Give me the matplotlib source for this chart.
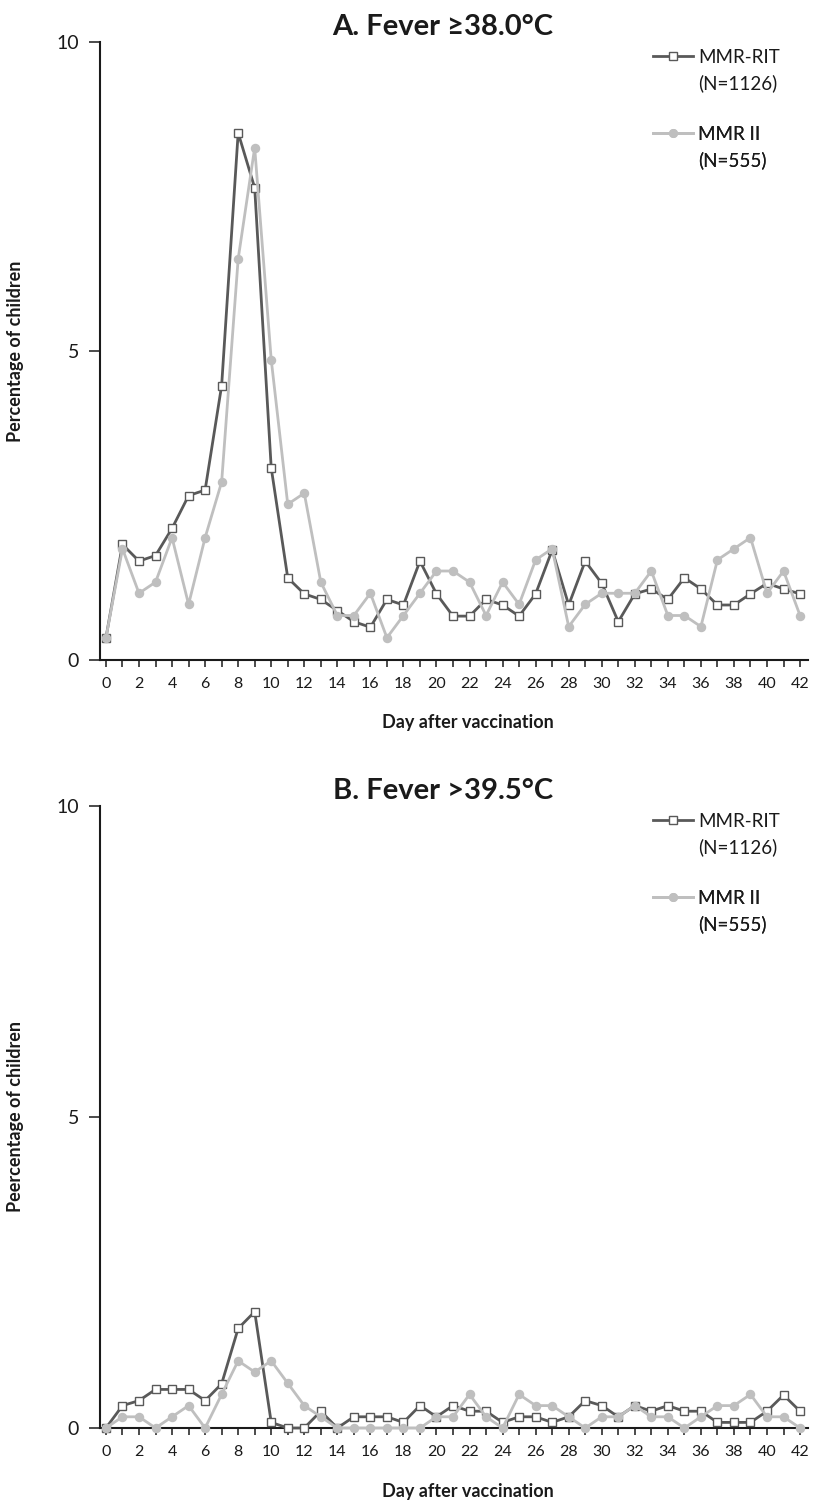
import matplotlib
matplotlib.use("Agg")
import matplotlib.pyplot as plt
from matplotlib.lines import Line2D

plt.rcParams['font.family'] = ['Lato', 'DejaVu Sans']

# days after vaccination
days = list(range(43))
xtick_labels = [str(d) if d % 2 == 0 else '' for d in days]

# panel A: fever >= 38.0 C (percentage of children)
fever38_rit = [0.36, 1.87, 1.60, 1.69, 2.13, 2.66, 2.75, 4.44, 8.53, 7.64,
               3.11, 1.33, 1.07, 0.98, 0.80, 0.62, 0.53, 0.98, 0.89, 1.60,
               1.07, 0.71, 0.71, 0.98, 0.89, 0.71, 1.07, 1.78, 0.89, 1.60,
               1.24, 0.62, 1.07, 1.15, 0.98, 1.33, 1.15, 0.89, 0.89, 1.07,
               1.24, 1.15, 1.07]
fever38_mmr = [0.36, 1.80, 1.08, 1.26, 1.98, 0.90, 1.98, 2.88, 6.49, 8.29,
               4.86, 2.52, 2.70, 1.26, 0.72, 0.72, 1.08, 0.36, 0.72, 1.08,
               1.44, 1.44, 1.26, 0.72, 1.26, 0.90, 1.62, 1.80, 0.54, 0.90,
               1.08, 1.08, 1.08, 1.44, 0.72, 0.72, 0.54, 1.62, 1.80, 1.98,
               1.08, 1.44, 0.72]

# panel B: fever > 39.5 C
fever395_rit = [0.00, 0.36, 0.44, 0.62, 0.62, 0.62, 0.44, 0.71, 1.60, 1.87,
                0.09, 0.00, 0.00, 0.27, 0.00, 0.18, 0.18, 0.18, 0.09, 0.36,
                0.18, 0.36, 0.27, 0.27, 0.09, 0.18, 0.18, 0.09, 0.18, 0.44,
                0.36, 0.18, 0.36, 0.27, 0.36, 0.27, 0.27, 0.09, 0.09, 0.09,
                0.27, 0.53, 0.27]
fever395_mmr = [0.00, 0.18, 0.18, 0.00, 0.18, 0.36, 0.00, 0.54, 1.08, 0.90,
                1.08, 0.72, 0.36, 0.18, 0.00, 0.00, 0.00, 0.00, 0.00, 0.00,
                0.18, 0.18, 0.54, 0.18, 0.00, 0.54, 0.36, 0.36, 0.18, 0.00,
                0.18, 0.18, 0.36, 0.18, 0.18, 0.00, 0.18, 0.36, 0.36, 0.54,
                0.18, 0.18, 0.00]

series_names = ['MMR-RIT', 'MMR II']
series_n = ['(N=1126)', '(N=555)']
titles = ['A. Fever \u226538.0\u00b0C', 'B. Fever >39.5\u00b0C']
ylabels = ['Percentage of children', 'Peercentage of children']
xlabel = 'Day after vaccination'

DARK = '#595959'
LIGHT = '#bfbfbf'
INK = '#1a1a1a'
W, H = 818, 1501

fig = plt.figure(figsize=(W / 100, H / 100), dpi=100)


def add_px_axes(left, top, right, bottom):
    return fig.add_axes([left / W, 1 - bottom / H, (right - left) / W, (bottom - top) / H])


def draw_panel(ax, rit, mmr, title, ylabel, top, bottom):
    ax.plot(days, rit, color=DARK, lw=2.0, marker='s', ms=5.8, mfc='white',
            mec=DARK, mew=1.0, clip_on=False, zorder=3)
    ax.plot(days, mmr, color=LIGHT, lw=2.0, marker='o', ms=5.8, mfc=LIGHT,
            mec=LIGHT, clip_on=False, zorder=4)
    ax.set_xlim(-0.36, 42.48)
    ax.set_ylim(0, 10)
    ax.set_xticks(days)
    ax.set_xticklabels(xtick_labels)
    ax.set_yticks([0, 5, 10])
    for s in ['top', 'right']:
        ax.spines[s].set_visible(False)
    for s in ['left', 'bottom']:
        ax.spines[s].set_linewidth(1.5)
        ax.spines[s].set_color(INK)
    ax.tick_params(axis='x', length=5, width=1.1, pad=7, labelsize=11.5,
                   colors=INK, direction='out')
    ax.tick_params(axis='y', length=8, width=1.1, pad=7, labelsize=14,
                   colors=INK, direction='out')

    fig.text(443 / W, 1 - (top - 7) / H, title, ha='center', va='baseline',
             fontsize=21, fontweight='bold', color=INK)
    fig.text(16 / W, 1 - ((top + bottom) / 2) / H, ylabel, rotation=90,
             ha='center', va='center', fontsize=13, fontweight='bold', color=INK)
    fig.text(468 / W, 1 - (bottom + 63) / H, xlabel, ha='center', va='center',
             fontsize=13, fontweight='bold', color=INK)

    # legend, one block per vaccine
    height = bottom - top
    blank = Line2D([], [], color='none')
    handles = [
        Line2D([], [], color=DARK, lw=2.0, marker='s', ms=5.5, mfc='white', mec=DARK, mew=1.0),
        Line2D([], [], color=LIGHT, lw=2.0, marker='o', ms=5.5, mfc=LIGHT, mec=LIGHT),
    ]
    for i, off in enumerate([7, 84]):
        leg = ax.legend([handles[i], blank], [series_names[i], series_n[i]],
                        loc='upper left',
                        bbox_to_anchor=((653 - 100) / 708, 1 - off / height),
                        frameon=False, fontsize=13.5, borderpad=0, borderaxespad=0,
                        handlelength=2.15, handletextpad=0.25, labelspacing=0.45,
                        labelcolor=INK)
        ax.add_artist(leg)


axA = add_px_axes(100, 42, 808, 660)
draw_panel(axA, fever38_rit, fever38_mmr, titles[0], ylabels[0], 42, 660)

axB = add_px_axes(100, 806, 808, 1428)
draw_panel(axB, fever395_rit, fever395_mmr, titles[1], ylabels[1], 806, 1428)

fig.savefig('out.png', dpi=100, facecolor='white')
